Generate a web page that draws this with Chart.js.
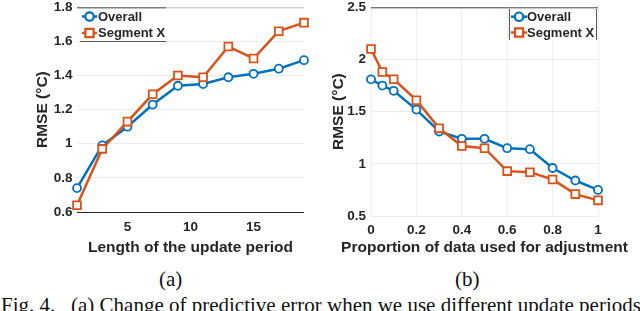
<!DOCTYPE html>
<html>
<head>
<meta charset="utf-8">
<script src="https://cdn.jsdelivr.net/npm/chart.js@4.4.1/dist/chart.umd.min.js"></script>
<style>
  html, body { margin: 0; padding: 0; background: #fff; }
  body { width: 640px; height: 311px; position: relative; overflow: hidden; }
  .panel { position: absolute; top: 0; width: 320px; height: 260px; }
  .sub, .caption { position: absolute; font-family: "Liberation Serif", "Times New Roman", serif;
    font-size: 21px; line-height: 21px; color: #111; white-space: pre; }
</style>
</head>
<body>
<div class="panel" style="left:0"><canvas id="chartA" width="320" height="260"></canvas></div>
<div class="panel" style="left:320px"><canvas id="chartB" width="320" height="260"></canvas></div>
<div class="sub" style="left:159px; top:269px">(a)</div>
<div class="sub" style="left:455px; top:269px">(b)</div>
<div class="caption" style="left:1px; top:295px">Fig. 4.   (a) Change of predictive error when we use different update periods</div>

<script>
// ===== data =====
const periodA = [1, 3, 5, 7, 9, 11, 13, 15, 17, 19];
const overallA = [0.74, 0.99, 1.10, 1.23, 1.34, 1.35, 1.39, 1.41, 1.44, 1.49];
const segmentA = [0.64, 0.97, 1.13, 1.29, 1.40, 1.39, 1.57, 1.50, 1.66, 1.71];
const xTicksA = [5, 10, 15];
const yTicksA = [0.6, 0.8, 1, 1.2, 1.4, 1.6, 1.8];

const propB = [0, 0.05, 0.1, 0.2, 0.3, 0.4, 0.5, 0.6, 0.7, 0.8, 0.9, 1];
const overallB = [1.81, 1.75, 1.70, 1.52, 1.31, 1.24, 1.24, 1.15, 1.14, 0.96, 0.84, 0.75];
const segmentB = [2.10, 1.88, 1.81, 1.61, 1.34, 1.17, 1.15, 0.93, 0.92, 0.85, 0.71, 0.65];
const xTicksB = [0, 0.2, 0.4, 0.6, 0.8, 1];
const yTicksB = [0.5, 1, 1.5, 2, 2.5];

const seriesNames = ['Overall', 'Segment X'];

const BLUE = '#0072BD';
const ORANGE = '#D95319';
const TXT = '#262626';
const FONT = "'Liberation Sans', Arial, sans-serif";

function pts(xs, ys) { return xs.map((x, i) => ({ x: x, y: ys[i] })); }
function fixTicks(list) { return s => { s.ticks = list.map(v => ({ value: v })); }; }
function fmt(v) { return String(+Number(v).toFixed(2)); }

// ===== in-plot legend, axes frame lines, x title (not squeezed) =====
const framePlugin = {
    id: 'frame',
    afterDatasetsDraw(chart, args, opts) {
        const { ctx, chartArea: a } = chart;
        ctx.save();

        // legend
        const lg = opts.legend;
        ctx.fillStyle = '#fff';
        ctx.fillRect(lg.x0, lg.y0, lg.x1 - lg.x0, lg.y1 - lg.y0);
        ctx.lineWidth = 1;
        ctx.strokeStyle = lg.color;
        ctx.beginPath();
        if (lg.sides.includes('bottom')) { ctx.moveTo(lg.x0 + 3, lg.y1 + 0.5); ctx.lineTo(lg.x1, lg.y1 + 0.5); }
        if (lg.sides.includes('left')) { ctx.moveTo(lg.x0 + 0.5, lg.y0 + 2); ctx.lineTo(lg.x0 + 0.5, lg.y1); }
        if (lg.sides.includes('right')) { ctx.moveTo(lg.x1 + 0.5, lg.y0 + 2); ctx.lineTo(lg.x1 + 0.5, lg.y1); }
        ctx.stroke();

        chart.data.datasets.forEach((ds, i) => {
            const y = lg.rows[i];
            ctx.strokeStyle = ds.borderColor;
            ctx.lineWidth = ds.borderWidth;
            ctx.beginPath(); ctx.moveTo(lg.lx0, y); ctx.lineTo(lg.lx1, y); ctx.stroke();
            Chart.helpers.drawPoint(ctx, {
                pointStyle: ds.pointStyle, radius: ds.pointRadius, borderWidth: ds.pointBorderWidth
            }, (lg.lx0 + lg.lx1) / 2, y);
            ctx.fillStyle = '#fff';
            ctx.lineWidth = ds.pointBorderWidth;
            ctx.fill(); ctx.stroke();
            ctx.fillStyle = TXT;
            ctx.font = 'bold 13px ' + FONT;
            ctx.textBaseline = 'middle';
            ctx.fillText(ds.label, lg.tx, y + 0.5);
        });

        // frame lines
        ctx.lineWidth = 1;
        if (opts.top) { ctx.strokeStyle = opts.top; ctx.beginPath(); ctx.moveTo(a.left, a.top + 0.5); ctx.lineTo(a.right, a.top + 0.5); ctx.stroke(); }
        if (lg.sides.includes('top')) { ctx.strokeStyle = lg.color; ctx.beginPath(); ctx.moveTo(lg.x0, a.top + 0.5); ctx.lineTo(lg.x1, a.top + 0.5); ctx.stroke(); }
        if (opts.bottom) { ctx.strokeStyle = opts.bottom; ctx.beginPath(); ctx.moveTo(a.left, a.bottom + 0.5); ctx.lineTo(a.right, a.bottom + 0.5); ctx.stroke(); }

        // x axis title
        ctx.fillStyle = TXT;
        ctx.font = 'bold 15.5px ' + FONT;
        ctx.textAlign = 'center';
        ctx.textBaseline = 'middle';
        ctx.fillText(opts.xTitle, (a.left + a.right) / 2, opts.xTitleY);
        ctx.restore();
    }
};

function makeDataset(label, data, color, style, radius, order) {
    return {
        label: label, data: data, borderColor: color, backgroundColor: '#fff',
        borderWidth: 2.5, pointStyle: style, pointRadius: radius, pointBorderWidth: 1.8,
        pointBackgroundColor: '#fff', pointBorderColor: color, tension: 0, clip: false, order: order
    };
}

function makeChart(id, cfg) {
    return new Chart(document.getElementById(id), {
        type: 'line',
        data: {
            datasets: [
                makeDataset(seriesNames[0], pts(cfg.xs, cfg.s1), BLUE, 'circle', 4, 2),
                makeDataset(seriesNames[1], pts(cfg.xs, cfg.s2), ORANGE, 'rect', 5.5, 1)
            ]
        },
        options: {
            responsive: false, animation: false, events: [],
            layout: { padding: { left: 0, right: cfg.padRight, top: 6, bottom: 0 } },
            plugins: { legend: { display: false }, tooltip: { enabled: false }, frame: cfg.frame },
            scales: {
                x: {
                    type: 'linear', min: cfg.xMin, max: cfg.xMax,
                    afterBuildTicks: fixTicks(cfg.xTicks),
                    afterFit: s => { s.height = cfg.xHeight; s.paddingLeft = 0; s.paddingRight = 0; },
                    grid: { display: cfg.xGrid, color: '#eeeeee', drawTicks: false },
                    border: { display: false },
                    ticks: { padding: cfg.xPad, color: TXT, font: { family: FONT, size: 13.5, weight: 'bold' }, callback: fmt, maxRotation: 0 }
                },
                y: {
                    min: cfg.yMin, max: cfg.yMax,
                    afterBuildTicks: fixTicks(cfg.yTicks),
                    afterFit: s => { s.width = cfg.yWidth; s.paddingTop = 0; s.paddingBottom = 0; },
                    grid: { color: '#ebebeb', drawTicks: false },
                    border: { display: false },
                    ticks: { padding: cfg.yPad, color: TXT, font: { family: FONT, size: 13.5, weight: 'bold' }, callback: fmt },
                    title: { display: true, text: 'RMSE (°C)', color: TXT, padding: { top: cfg.yTitlePad, bottom: 0 },
                        font: { family: FONT, size: 15.5, weight: 'bold' } }
                }
            }
        },
        plugins: [framePlugin]
    });
}

makeChart('chartA', {
    xs: periodA, s1: overallA, s2: segmentA, xMin: 1, xMax: 19, xTicks: xTicksA,
    yMin: 0.6, yMax: 1.8, yTicks: yTicksA,
    padRight: 16, yWidth: 77, xHeight: 48, xPad: 7, yPad: 4.5, yTitlePad: 33, xGrid: false,
    frame: {
        top: '#c4c4c4', bottom: '#262626',
        xTitle: 'Length of the update period', xTitleY: 247.5,
        legend: { x0: 77, x1: 166, y0: 7, y1: 41, sides: ['top', 'bottom'], color: '#555',
            rows: [16.5, 33], lx0: 82, lx1: 97, tx: 98 }
    }
});

makeChart('chartB', {
    xs: propB, s1: overallB, s2: segmentB, xMin: 0, xMax: 1, xTicks: xTicksB,
    yMin: 0.5, yMax: 2.5, yTicks: yTicksB,
    padRight: 42, yWidth: 51, xHeight: 44, xPad: 6, yPad: 5, yTitlePad: 9, xGrid: true,
    frame: {
        top: '#444', bottom: null,
        xTitle: 'Proportion of data used for adjustment', xTitleY: 247.5,
        legend: { x0: 189, x1: 276, y0: 7, y1: 40, sides: ['left', 'right'], color: '#555',
            rows: [16.7, 32.5], lx0: 191, lx1: 207, tx: 207 }
    }
});
</script>
</body>
</html>
